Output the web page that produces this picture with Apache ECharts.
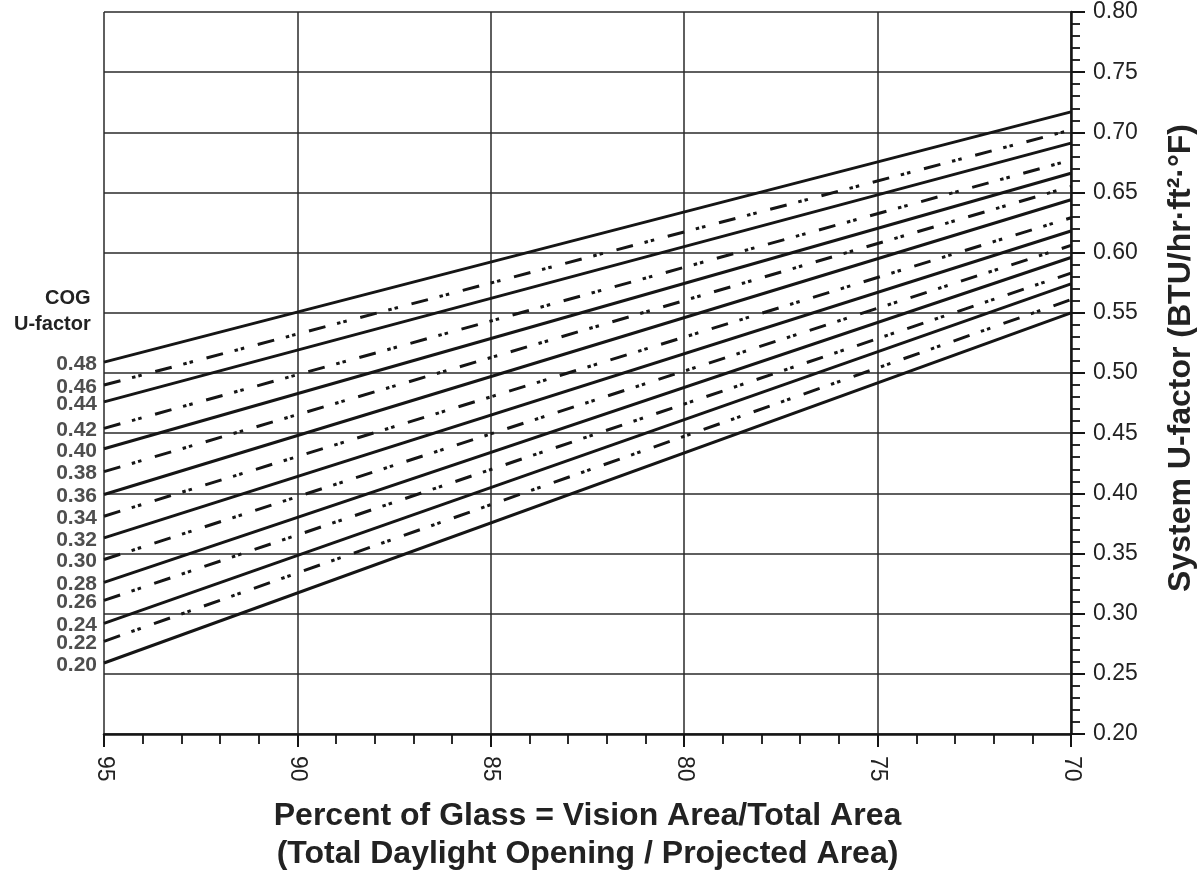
<!DOCTYPE html>
<html>
<head>
<meta charset="utf-8">
<script src="https://cdn.jsdelivr.net/npm/echarts@6/dist/echarts.min.js"></script>
<style>
  html, body { margin: 0; padding: 0; background: #ffffff; overflow: hidden; }
  #chart { width: 1202px; height: 878px; }
</style>
</head>
<body>
<div id="chart"></div>
<script>
// Centre-of-glass U-factor for each curve (also the left-hand curve labels)
const cogUFactors = [0.20, 0.22, 0.24, 0.26, 0.28, 0.30, 0.32, 0.34, 0.36, 0.38, 0.40, 0.42, 0.44, 0.46, 0.48];
// System U-factor at 95 % glass and at 70 % glass, one entry per curve
const systemAt95 = [0.259, 0.277, 0.292, 0.311, 0.326, 0.345, 0.363, 0.381, 0.399, 0.418, 0.437, 0.454, 0.476, 0.490, 0.509];
const systemAt70 = [0.550, 0.561, 0.574, 0.583, 0.596, 0.606, 0.618, 0.629, 0.644, 0.655, 0.666, 0.677, 0.691, 0.702, 0.717];
// Percent-of-glass end points of every curve
const glassStart = 95;
const glassEnd = 70;

const FONT = '"Liberation Sans", Arial, Helvetica, sans-serif';
const INK = '#151515';
const DASH_DOT_DOT = [17, 12, 3.5, 3, 3.5, 14];

const curveSeries = cogUFactors.map((cog, i) => ({
  name: cog.toFixed(2),
  type: 'line',
  data: [[glassStart, systemAt95[i]], [glassEnd, systemAt70[i]]],
  symbol: 'none',
  silent: true,
  z: 3,
  lineStyle: {
    color: INK,
    width: 3,
    cap: 'butt',
    type: i % 2 === 0 ? 'solid' : DASH_DOT_DOT
  }
}));

// Curve labels placed at the left end of each curve
const labelSeries = {
  type: 'scatter',
  symbolSize: 0,
  silent: true,
  z: 4,
  data: cogUFactors.map((cog, i) => [glassStart, systemAt95[i], cog]),
  label: {
    show: true,
    position: 'left',
    distance: 7,
    offset: [0, 2],
    formatter: p => p.value[2].toFixed(2),
    color: '#222',
    fontFamily: FONT,
    fontWeight: 'bold',
    fontSize: 21
  }
};

const chart = echarts.init(document.getElementById('chart'), null, { renderer: 'canvas', width: 1202, height: 878 });
chart.setOption({
  backgroundColor: '#ffffff',
  animation: false,
  grid: { left: 104, top: 12, width: 967, height: 723, containLabel: false },
  xAxis: {
    type: 'value',
    min: glassEnd,
    max: glassStart,
    interval: 5,
    inverse: true,
    position: 'bottom',
    name: 'Percent of Glass = Vision Area/Total Area\n(Total Daylight Opening / Projected Area)',
    nameLocation: 'middle',
    nameGap: 63,
    nameTextStyle: {
      color: '#222',
      fontFamily: FONT,
      fontWeight: 'bold',
      fontSize: 32,
      lineHeight: 38,
      verticalAlign: 'top'
    },
    axisLine: { show: true, onZero: false, lineStyle: { color: INK, width: 2.5 } },
    axisTick: { show: true, inside: false, length: 13, lineStyle: { color: INK, width: 2 } },
    minorTick: { show: true, splitNumber: 5, length: 10, lineStyle: { color: INK, width: 1.8 } },
    splitLine: { show: true, lineStyle: { color: '#2a2a2a', width: 1.5 } },
    axisLabel: {
      rotate: -90,
      margin: 22,
      color: '#222',
      fontFamily: FONT,
      fontSize: 23,
      formatter: v => String(v)
    }
  },
  yAxis: {
    type: 'value',
    position: 'right',
    min: 0.20,
    max: 0.80,
    interval: 0.05,
    axisLine: { show: true, onZero: false, lineStyle: { color: INK, width: 2.5 } },
    axisTick: { show: true, inside: false, length: 14, lineStyle: { color: INK, width: 2 } },
    minorTick: { show: true, splitNumber: 5, length: 9, lineStyle: { color: INK, width: 1.8 } },
    splitLine: { show: true, lineStyle: { color: '#2a2a2a', width: 1.5 } },
    axisLabel: {
      margin: 22,
      color: '#222',
      fontFamily: FONT,
      fontSize: 23,
      formatter: v => v.toFixed(2)
    }
  },
  graphic: [
    {
      // Header above the curve labels
      type: 'text',
      left: 14,
      top: 285,
      style: {
        text: 'COG\nU-factor',
        fill: '#222',
        font: 'bold 20px ' + FONT,
        textAlign: 'right',
        lineHeight: 26
      }
    },
    {
      // Vertical title of the right-hand axis
      type: 'text',
      x: 1181,
      y: 358,
      rotation: Math.PI / 2,
      style: {
        text: 'System U-factor (BTU/hr·ft²·°F)',
        fill: '#222',
        font: 'bold 32px ' + FONT,
        textAlign: 'center',
        textVerticalAlign: 'middle'
      }
    }
  ],
  series: [...curveSeries, labelSeries]
});
</script>
</body>
</html>
